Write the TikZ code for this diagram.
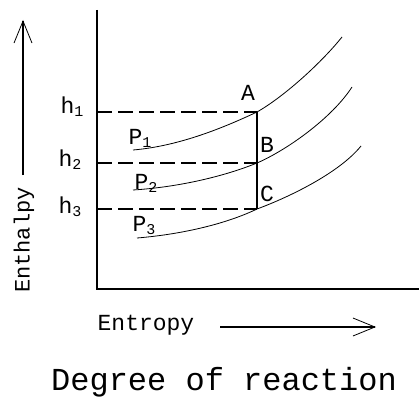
\documentclass[tikz,border=0pt]{standalone}
\usepackage{fontspec}
\setmainfont{Liberation Mono}
\usetikzlibrary{calc,arrows.meta,positioning}
\newcommand{\lowidx}[1]{\raisebox{-3pt}{\fontsize{15}{15}\selectfont #1}}

\begin{document}
\begin{tikzpicture}[x=1pt,y=-1pt,line width=1.1pt,
  every node/.style={font=\fontsize{23}{23}\selectfont,inner sep=0pt},
  guide/.style={line width=1.2pt,dash pattern=on 15pt off 6pt},
  curve/.style={line width=0.8pt},
  barb/.style={-{Straight Barb[length=22pt,width=18pt,line width=0.8pt]}}]
  \useasboundingbox (0,0) rectangle (419,396);

  % Layout anchors
  \coordinate (O) at (97,289);
  \coordinate (Ytop) at (97,10);
  \coordinate (Xend) at (419,289);
  \coordinate (A) at (257,112);
  \coordinate (B) at (257,163);
  \coordinate (C) at (257,209);

  % --- Axes ---
  \draw (Ytop) -- (O) -- (Xend);

  % --- Pressure lines ---
  \draw[curve] (133,150) .. controls (180,146) and (225,127) .. (A)
    .. controls (285,96) and (322,62) .. (342,37);
  \draw[curve] (133,190) .. controls (180,187) and (225,176) .. (B)
    .. controls (287,150) and (332,118) .. (352,87);
  \draw[curve] (137,238) .. controls (185,234) and (228,223) .. (C)
    .. controls (292,196) and (340,172) .. (361,146);

  % --- Enthalpy levels ---
  \draw[guide] (O |- A) -- (A);
  \draw[guide] (O |- B) -- (B);
  \draw[guide] (O |- C) -- (C);
  \draw (A) -- (C);

  \node[anchor=base west] (h1) at (60,113) {h\lowidx{1}};
  \node[anchor=base west] (h2) at (58,166) {h\lowidx{2}};
  \node[anchor=base west] (h3) at (58,213) {h\lowidx{3}};

  \node (lA) at (248,93) {A};
  \node (lB) at (267,145) {B};
  \node (lC) at (267,194) {C};

  \node[anchor=base west] (P1) at (128,144) {P\lowidx{1}};
  \node[anchor=base west] (P2) at (134,189) {P\lowidx{2}};
  \node[anchor=base west] (P3) at (132,231) {P\lowidx{3}};

  % --- Axis titles ---
  \coordinate (up0) at (23,175);
  \coordinate (up1) at (23,20);
  \draw[barb] (up0) -- (up1);
  \node[rotate=90,font=\fontsize{22}{22}\selectfont] (enth) at (24,240) {Enthalpy};

  \node (entr) at (146,325) {Entropy};
  \coordinate (rt0) at (220,327);
  \coordinate (rt1) at (376,327);
  \draw[barb] (rt0) -- (rt1);

  \node[font=\fontsize{32}{32}\selectfont] (title) at (224,382) {Degree of reaction};
\end{tikzpicture}
\end{document}
